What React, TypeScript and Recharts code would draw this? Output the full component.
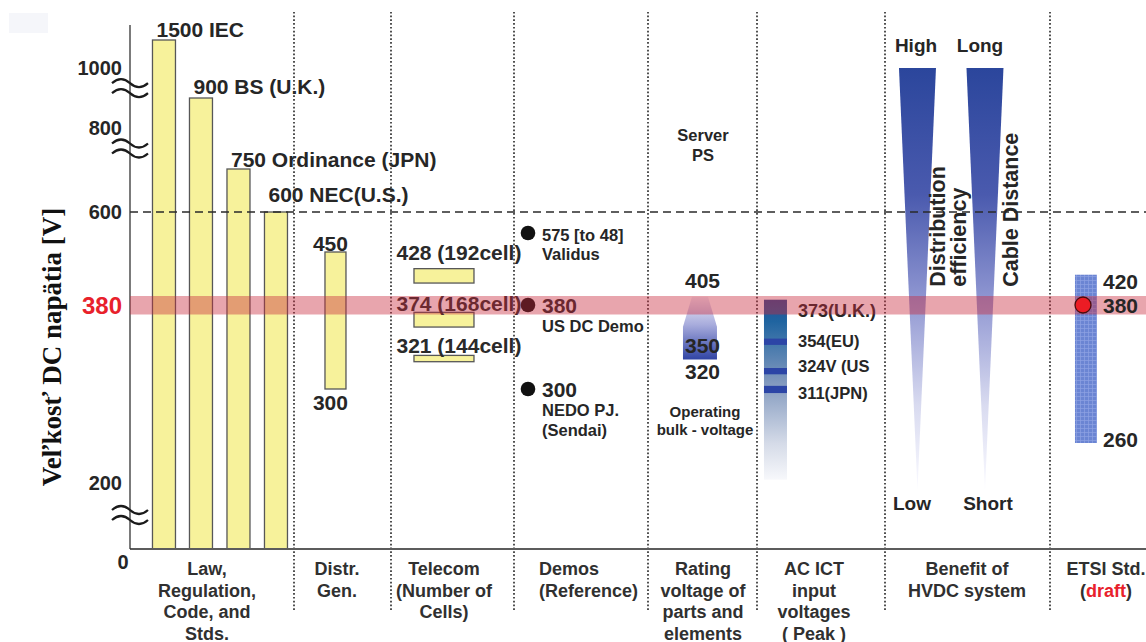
import React from "react";
import {
  ComposedChart,
  Bar,
  Scatter,
  XAxis,
  YAxis,
  ReferenceLine,
  ReferenceArea,
} from "recharts";

const W = 1146;
const H = 642;
const SANS = "'Liberation Sans', Arial, Helvetica, sans-serif";
const SERIF = "'Liberation Serif', 'Times New Roman', serif";
const INK = "#262626";
const YELLOW = "#f7f29b";
const RED = "#e8212b";

// ---- values (volts) ----
const LAW_VOLTS = [1500, 900, 750, 600];
const LAW_TAGS = ["1500 IEC", "900 BS (U.K.)", "750 Ordinance (JPN)", "600 NEC(U.S.)"];
const DISTR_GEN = [300, 450];
const TELECOM_VOLTS = [428, 374, 321];
const TELECOM_CELLS = [192, 168, 144];
const TELECOM_BANDS = [
  [409, 428],
  [359, 373],
  [326, 332],
];
const DEMO_VOLTS = [575, 380, 300];
const DEMO_VALUES = ["575 [to 48]", "380", "300"];
const DEMO_NAMES = [["Validus"], ["US DC Demo"], ["NEDO PJ.", "(Sendai)"]];
const RATING_SPAN = [328, 391];
const RATING_MARKS = ["405", "350", "320"];
const RATING_MARK_LEVELS = [402, 334, 310];
const AC_SPAN = [205, 387];
const AC_LABELS = ["373(U.K.)", "354(EU)", "324V (US", "311(JPN)"];
const AC_LEVELS = [374, 345, 317, 300];
const AC_LABEL_LEVELS = [374, 346, 322, 297];
const AC_STRIPED = [false, true, true, true];
const HVDC_SPAN = [179, 1000];
const ETSI_SPAN = [260, 420];
const ETSI_TARGET = 380;
const BAND = [371, 392];
const DASHED_AT = 600;
const Y_TICKS = [0, 200, 380, 600, 800, 1000];
const Y_BREAKS = [103, 775, 933];

const CATEGORIES = [
  ["Law,", "Regulation,", "Code, and", "Stds."],
  ["Distr.", "Gen."],
  ["Telecom", "(Number of", "Cells)"],
  ["Demos", "(Reference)"],
  ["Rating", "voltage of", "parts and", "elements"],
  ["AC ICT", "input", "voltages", "( Peak )"],
  ["Benefit of", "HVDC system"],
  ["ETSI Std.", "(draft)"],
];

// ---- schematic (broken) voltage axis: volts -> axis units ----
const AXIS_VOLTS = [0, 200, 260, 300, 380, 450, 575, 600, 750, 800, 1000, 1500];
const AXIS_UNITS = [0, 66, 106, 160, 244, 297, 316, 337, 380, 421, 481, 509];
const AXIS_TOP = 524;

function brk(v: number) {
  const n = AXIS_VOLTS.length;
  let i = 1;
  while (i < n - 1 && v > AXIS_VOLTS[i]) i++;
  const v0 = AXIS_VOLTS[i - 1];
  const v1 = AXIS_VOLTS[i];
  const u0 = AXIS_UNITS[i - 1];
  const u1 = AXIS_UNITS[i];
  return u0 + ((v - v0) * (u1 - u0)) / (v1 - v0);
}

// ---- horizontal layout (units from the plot's left edge) ----
const YAXIS_W = 130;
const PLOT_BOTTOM = 549;
const X_SPAN = 1016;
const SEPARATORS = [164, 261, 384, 518, 627, 755, 920];
const LAW_X = [34, 71, 108.5, 146];
const LAW_TAG_LIFT = [3, 4, 2, 10];
const DISTR_X = 205.5;
const TELECOM_X = 314;
const TELECOM_TAG_LIFT = [9, 1, 2];
const DEMO_X = 398;
const RATING_X = 570;
const AC_X = 645.5;
const AC_LABEL_X = 668;
const WEDGE_X = [787.5, 855];
const ETSI_X = 956;
const CAT_X = [77, 207, 314, 409, 573, 684, 837, 976];
const CAT_ANCHOR = ["middle", "middle", "middle", "start", "middle", "middle", "middle", "middle"];

const CAPTIONS = [
  { x: 573, v: 784, lines: ["Server", "PS"], cls: "server" },
  { x: 575, v: 279, lines: ["Operating", "bulk - voltage"], cls: "op" },
  { x: 786, v: 1286, lines: ["High"], cls: "hvdc" },
  { x: 850, v: 1286, lines: ["Long"], cls: "hvdc" },
  { x: 782, v: 118, lines: ["Low"], cls: "hvdc" },
  { x: 858, v: 118, lines: ["Short"], cls: "hvdc" },
  { x: 815, v: 404, lines: ["Distribution"], cls: "vert" },
  { x: 836, v: 404, lines: ["efficiency"], cls: "vert" },
  { x: 888, v: 404, lines: ["Cable Distance"], cls: "vert" },
];

const PIECES = [
  ...LAW_VOLTS.map((v, i) => ({
    x: LAW_X[i],
    range: [brk(0), brk(v)],
    kind: "law",
    tag: LAW_TAGS[i],
    lift: LAW_TAG_LIFT[i],
  })),
  { x: DISTR_X, range: DISTR_GEN.map(brk), kind: "distr", lo: DISTR_GEN[0], hi: DISTR_GEN[1] },
  ...TELECOM_VOLTS.map((v, i) => ({
    x: TELECOM_X,
    range: TELECOM_BANDS[i].map(brk),
    kind: "telecom",
    tag: `${v} (${TELECOM_CELLS[i]}cell)`,
    lift: TELECOM_TAG_LIFT[i],
  })),
  { x: RATING_X, range: RATING_SPAN.map(brk), kind: "rating" },
  { x: AC_X, range: AC_SPAN.map(brk), kind: "ac" },
  ...AC_LEVELS.filter((_, i) => AC_STRIPED[i]).map((lv) => ({
    x: AC_X,
    range: [brk(lv - 3), brk(lv + 3)],
    kind: "stripe",
  })),
  ...WEDGE_X.map((x) => ({ x, range: HVDC_SPAN.map(brk), kind: "wedge" })),
  { x: ETSI_X, range: ETSI_SPAN.map(brk), kind: "etsi", lo: ETSI_SPAN[0], hi: ETSI_SPAN[1] },
];

const NOTES = [
  ...CAPTIONS,
  ...RATING_MARKS.map((t, i) => ({ x: RATING_X + 2.5, v: RATING_MARK_LEVELS[i], lines: [t], cls: "rating" })),
  ...AC_LABELS.map((t, i) => ({
    x: AC_LABEL_X,
    v: AC_LABEL_LEVELS[i],
    lines: [t],
    cls: AC_STRIPED[i] ? "ac" : "acBig",
  })),
].map((n) => ({ ...n, y: brk(n.v) }));

const DEMOS = DEMO_VOLTS.map((v, i) => ({
  x: DEMO_X,
  y: brk(v),
  value: DEMO_VALUES[i],
  names: DEMO_NAMES[i],
}));

const ETSI_DOT = [{ x: ETSI_X - 3, y: brk(ETSI_TARGET), value: String(ETSI_TARGET) }];

const PIECE_W: Record<string, number> = {
  law: 23,
  distr: 21,
  telecom: 60,
  rating: 34,
  ac: 23,
  stripe: 23,
  wedge: 37,
  etsi: 22,
};

const NOTE_STYLE: Record<string, any> = {
  server: { size: 16.5, anchor: "middle", lh: 20 },
  op: { size: 15, anchor: "middle", lh: 17.5 },
  rating: { size: 21, anchor: "middle", lh: 0 },
  ac: { size: 16.5, anchor: "start", central: true },
  acBig: { size: 18, anchor: "start", central: true },
  hvdc: { size: 19, anchor: "middle", lh: 0 },
  vert: { size: 21.5, anchor: "start", rotate: true },
};

function Label({ x, y, size, anchor = "start", weight = 700, fill = INK, children, central }: any) {
  return (
    <text
      x={x}
      y={y}
      textAnchor={anchor}
      dominantBaseline={central ? "central" : undefined}
      fontFamily={SANS}
      fontWeight={weight}
      fontSize={size}
      fill={fill}
    >
      {children}
    </text>
  );
}

function Piece(props: any) {
  const { x, y, width, height, payload } = props;
  if (x == null || y == null || !payload) return null;
  const kind = payload.kind;
  const w = PIECE_W[kind];
  const cx = x + width / 2;
  const top = Math.min(y, y + height);
  const bot = Math.max(y, y + height);
  const left = cx - w / 2;
  const right = cx + w / 2;
  const h = bot - top;
  const box = { x: left, y: top, width: w, height: h };

  switch (kind) {
    case "law":
      return (
        <g>
          <rect {...box} fill={YELLOW} stroke="#575757" strokeWidth={1.3} />
          <Label x={left + 4} y={top - payload.lift} size={21}>
            {payload.tag}
          </Label>
        </g>
      );
    case "distr":
      return (
        <g>
          <rect {...box} fill={YELLOW} stroke="#575757" strokeWidth={1.3} />
          <Label x={cx - 5} y={top - 1} size={21} anchor="middle">
            {payload.hi}
          </Label>
          <Label x={cx - 5} y={bot + 21} size={21} anchor="middle">
            {payload.lo}
          </Label>
        </g>
      );
    case "telecom":
      return (
        <g>
          <rect {...box} fill={YELLOW} stroke="#575757" strokeWidth={1.3} />
          <Label x={cx + 15} y={top - payload.lift} size={21} anchor="middle" fill="#2a2a2a">
            {payload.tag}
          </Label>
        </g>
      );
    case "rating":
      return (
        <path
          d={`M${cx - 8},${top} L${cx + 8},${top} L${right},${top + 30} L${right},${bot} L${left},${bot} L${left},${top + 30} Z`}
          fill="url(#ratingFade)"
        />
      );
    case "ac":
      return <rect {...box} fill="url(#acFade)" />;
    case "stripe":
      return <rect {...box} fill="#2c45a6" />;
    case "wedge":
      return <path d={`M${left},${top} L${right},${top} L${cx},${bot} Z`} fill="url(#wedgeFade)" />;
    case "etsi":
      return (
        <g>
          <rect {...box} fill="url(#etsiGrid)" />
          <Label x={right + 6} y={top + 14} size={21}>
            {payload.hi}
          </Label>
          <Label x={right + 6} y={bot + 4} size={21}>
            {payload.lo}
          </Label>
        </g>
      );
    default:
      return null;
  }
}

function Note(props: any) {
  const { cx, cy, payload } = props;
  if (cx == null || cy == null || !payload) return null;
  const st = NOTE_STYLE[payload.cls];
  if (st.rotate) {
    return (
      <text
        x={cx}
        y={cy}
        transform={`rotate(-90 ${cx} ${cy})`}
        textAnchor="start"
        fontFamily={SANS}
        fontWeight={700}
        fontSize={st.size}
        fill={INK}
      >
        {payload.lines[0]}
      </text>
    );
  }
  return (
    <g>
      {payload.lines.map((line: string, k: number) => (
        <Label key={k} x={cx} y={cy + k * (st.lh || 0)} size={st.size} anchor={st.anchor} central={st.central}>
          {line}
        </Label>
      ))}
    </g>
  );
}

function DemoDot(props: any) {
  const { cx, cy, payload } = props;
  if (cx == null || cy == null || !payload) return null;
  const big = payload.value.length <= 3;
  return (
    <g>
      <circle cx={cx} cy={cy} r={7.3} fill="#111" />
      <Label x={cx + 14} y={cy + 8} size={big ? 21 : 16.5}>
        {payload.value}
      </Label>
      {payload.names.map((n: string, k: number) => (
        <Label key={k} x={cx + 14} y={cy + 27 + k * 20} size={16.5}>
          {n}
        </Label>
      ))}
    </g>
  );
}

function EtsiDot(props: any) {
  const { cx, cy, payload } = props;
  if (cx == null || cy == null || !payload) return null;
  return (
    <g>
      <circle cx={cx} cy={cy} r={8} fill="#ec1c24" stroke="#4a0d0d" strokeWidth={1.3} />
      <Label x={cx + 20} y={cy + 8} size={21}>
        {payload.value}
      </Label>
    </g>
  );
}

function BreakMark({ y }: { y: number }) {
  const x0 = YAXIS_W - 18;
  return (
    <g fill="none" stroke="#1b1b1b" strokeWidth={2.2}>
      {[-5, 5].map((o) => (
        <path key={o} d={`M${x0},${y + o} q9,-8 18,0 t18,0`} />
      ))}
    </g>
  );
}

function VoltTick(props: any) {
  const { y, payload } = props;
  const u = payload.value;
  if (Y_BREAKS.some((b) => Math.abs(brk(b) - u) < 0.01)) return <BreakMark y={y} />;
  const v = Y_TICKS.find((t) => Math.abs(brk(t) - u) < 0.01);
  if (v === undefined) return null;
  if (v === 0) {
    return (
      <Label x={YAXIS_W - 7} y={y + 13} size={20} anchor="middle" central>
        0
      </Label>
    );
  }
  const hot = v === 380;
  return (
    <Label x={YAXIS_W - 8} y={y} size={hot ? 24 : 20} anchor="end" fill={hot ? RED : INK} central>
      {v}
    </Label>
  );
}

function CategoryTick(props: any) {
  const { x, payload } = props;
  const i = CAT_X.indexOf(payload.value);
  if (i < 0) return null;
  return (
    <g>
      {CATEGORIES[i].map((line, k) => (
        <Label key={k} x={x} y={PLOT_BOTTOM + 26 + k * 21.5} size={18} anchor={CAT_ANCHOR[i]} fill="#303030">
          {line.includes("draft") ? (
            <>
              (<tspan fill={RED}>draft</tspan>)
            </>
          ) : (
            line
          )}
        </Label>
      ))}
    </g>
  );
}

const YTitle = () => (
  <text
    x={61}
    y={347}
    transform="rotate(-90 61 347)"
    textAnchor="middle"
    fontFamily={SERIF}
    fontWeight={700}
    fontSize={27}
    fill="#111"
  >
    Veľkosť DC napätia [V]
  </text>
);

export default function App() {
  return (
    <div style={{ position: "absolute", left: 0, top: 0, width: W, height: H, background: "#fff" }}>
      <div style={{ position: "absolute", left: 9, top: 13, width: 39, height: 20, background: "#f5f6fa" }} />
      <ComposedChart width={W} height={H} data={PIECES} margin={{ top: 25, right: 0, bottom: 0, left: 0 }}>
        <defs>
          <linearGradient id="wedgeFade" x1="0" y1="0" x2="0" y2="1">
            <stop offset="0" stopColor="#2b469c" />
            <stop offset="0.3" stopColor="#4a5aae" />
            <stop offset="0.55" stopColor="#9097d2" />
            <stop offset="0.8" stopColor="#d9dbf0" />
            <stop offset="1" stopColor="#fafaff" />
          </linearGradient>
          <linearGradient id="acFade" x1="0" y1="0" x2="0" y2="1">
            <stop offset="0" stopColor="#2b4d93" />
            <stop offset="0.12" stopColor="#1f64a0" />
            <stop offset="0.45" stopColor="#7f97bd" />
            <stop offset="0.8" stopColor="#d5dbe8" />
            <stop offset="1" stopColor="#f7f8fb" />
          </linearGradient>
          <linearGradient id="ratingFade" x1="0" y1="0" x2="0" y2="1">
            <stop offset="0" stopColor="#f1f0f9" />
            <stop offset="0.45" stopColor="#a7abdc" />
            <stop offset="1" stopColor="#3044a4" />
          </linearGradient>
          <pattern id="etsiGrid" width="4" height="4" patternUnits="userSpaceOnUse">
            <rect width="4" height="4" fill="#6b85d3" />
            <path d="M0 0.5H4M0.5 0V4" stroke="#8ea2e3" strokeWidth="0.7" />
          </pattern>
        </defs>
        <XAxis
          type="number"
          dataKey="x"
          domain={[0, X_SPAN]}
          ticks={CAT_X}
          interval={0}
          tick={<CategoryTick />}
          tickLine={false}
          axisLine={{ stroke: "#5c5c5c", strokeWidth: 2 }}
          height={93}
        />
        <YAxis
          type="number"
          domain={[0, AXIS_TOP]}
          ticks={[...Y_TICKS, ...Y_BREAKS].map(brk)}
          interval={0}
          tick={<VoltTick />}
          tickLine={false}
          axisLine={{ stroke: "#333", strokeWidth: 1.3 }}
          width={YAXIS_W}
          label={{ content: YTitle }}
        />
        <Bar dataKey="range" barSize={2} shape={(p: any) => <Piece {...p} />} isAnimationActive={false} />
        {SEPARATORS.map((s) => (
          <ReferenceLine
            key={s}
            segment={[
              { x: s, y: -61 },
              { x: s, y: 537 },
            ]}
            ifOverflow="visible"
            stroke="#333"
            strokeWidth={1.7}
            strokeDasharray="1.7 2.1"
          />
        ))}
        <ReferenceLine y={brk(DASHED_AT)} stroke="#2a2a2a" strokeWidth={1.6} strokeDasharray="8 5" />
        <Scatter data={NOTES} dataKey="y" shape={(p: any) => <Note {...p} />} isAnimationActive={false} />
        <Scatter data={DEMOS} dataKey="y" shape={(p: any) => <DemoDot {...p} />} isAnimationActive={false} />
        <ReferenceArea
          y1={brk(BAND[0])}
          y2={brk(BAND[1])}
          fill="#c8283c"
          fillOpacity={0.42}
          stroke="none"
          zIndex={650}
        />
        <Scatter
          data={ETSI_DOT}
          dataKey="y"
          shape={(p: any) => <EtsiDot {...p} />}
          isAnimationActive={false}
          zIndex={700}
        />
      </ComposedChart>
    </div>
  );
}
